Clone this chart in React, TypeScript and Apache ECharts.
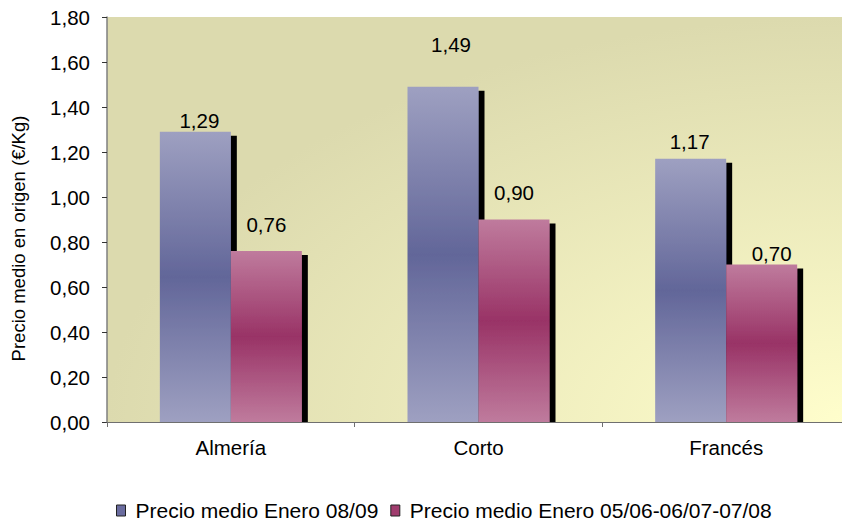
import React, { useEffect, useRef } from "react";
import * as echarts from "echarts";

const categories = ["Almería", "Corto", "Francés"];
const seriesNames = ["Precio medio Enero 08/09", "Precio medio Enero 05/06-06/07-07/08"];
const precioEnero0809 = [1.29, 1.49, 1.17];
const precioEneroMedia = [0.76, 0.9, 0.7];
const yMin = 0;
const yMax = 1.8;
const yInterval = 0.2;

// label nudges in px, mimicking where the original placed its value labels
const labelShift0809 = [[4, 4], [8, -27], [-1, -2]];
const labelShiftMedia = [[0, -11], [0, -12], [10, 4]];

const FONT = "'Liberation Sans', Arial, sans-serif";
const fmt = (v: number) => v.toFixed(2).replace(".", ",");

const vGrad = (edge: string, mid: string) => ({
  type: "linear",
  x: 0,
  y: 0,
  x2: 0,
  y2: 1,
  colorStops: [
    { offset: 0, color: edge },
    { offset: 0.5, color: mid },
    { offset: 1, color: edge },
  ],
});

export default function App() {
  const ref = useRef<HTMLDivElement>(null);
  useEffect(() => {
    document.body.style.margin = "0";
    if (!ref.current) return;
    const chart = echarts.init(ref.current, undefined, { renderer: "svg" });
    const barStyle = (edge: string, mid: string) => ({
      color: vGrad(edge, mid),
      shadowColor: "#000",
      shadowBlur: 0,
      shadowOffsetX: 6,
      shadowOffsetY: 4,
    });
    const makeData = (vals: number[], shifts: number[][]) =>
      vals.map((v, i) => ({ value: v, label: { offset: shifts[i] } }));
    const labelCfg = {
      show: true,
      position: "top",
      fontSize: 20.5,
      color: "#000",
      fontFamily: FONT,
      formatter: (p: any) => fmt(p.value),
    };
    chart.setOption({
      animation: false,
      textStyle: { fontFamily: FONT },
      grid: {
        left: 107,
        width: 743,
        top: 17,
        bottom: 101,
        outerBoundsMode: "none",
        containLabel: false,
        show: true,
        borderWidth: 0,
        backgroundColor: {
          type: "radial",
          x: 1,
          y: 1,
          r: 1,
          colorStops: [
            { offset: 0, color: "#fffecc" },
            { offset: 1, color: "#dcdaae" },
          ],
        },
      },
      graphic: [
        {
          type: "rect",
          z: 3,
          silent: true,
          shape: { x: 104, y: 423, width: 740, height: 6 },
          style: { fill: "#fff" },
        },
      ],
      legend: {
        left: 116,
        top: 500,
        padding: 0,
        itemWidth: 9,
        itemHeight: 11,
        itemGap: 12,
        icon: "rect",
        textStyle: { fontSize: 21, lineHeight: 20, color: "#000", fontFamily: FONT, padding: [0, 0, 0, 5] },
        data: [
          { name: seriesNames[0], itemStyle: { color: "#6a6c9f", borderColor: "#222", borderWidth: 1 } },
          { name: seriesNames[1], itemStyle: { color: "#a03c6e", borderColor: "#222", borderWidth: 1 } },
        ],
      },
      xAxis: {
        type: "category",
        data: categories,
        z: 4,
        axisLine: { lineStyle: { color: "#6f6f6f", width: 1 } },
        axisTick: { show: true, length: 5, lineStyle: { color: "#6f6f6f" } },
        axisLabel: { fontSize: 20.5, color: "#000", margin: 15, fontFamily: FONT },
      },
      yAxis: {
        type: "value",
        min: yMin,
        max: yMax,
        interval: yInterval,
        name: "Precio medio en origen (€/Kg)",
        nameLocation: "middle",
        nameGap: 79,
        nameTextStyle: { fontSize: 18.5, color: "#000", fontFamily: FONT, padding: [0, 38, 0, 0] },
        axisLine: { show: true, lineStyle: { color: "#7f7f7f", width: 1.5 } },
        axisTick: { show: true, length: 5, lineStyle: { color: "#333" } },
        axisLabel: { fontSize: 20.5, color: "#000", margin: 17, fontFamily: FONT, formatter: fmt },
        splitLine: {
          show: true,
          lineStyle: {
            color: "#333",
            width: 1,
            type: [8, 7],
            shadowColor: "rgba(0,0,0,0.25)",
            shadowOffsetY: 1,
          },
        },
      },
      series: [
        {
          name: seriesNames[0],
          type: "bar",
          z: 2,
          barWidth: 71,
          barGap: "0%",
          data: makeData(precioEnero0809, labelShift0809),
          itemStyle: barStyle("#9ea0c1", "#626699"),
          label: labelCfg,
        },
        {
          name: seriesNames[1],
          type: "bar",
          z: 2,
          barWidth: 71,
          barGap: "0%",
          data: makeData(precioEneroMedia, labelShiftMedia),
          itemStyle: barStyle("#bf7b9d", "#993366"),
          label: labelCfg,
        },
      ],
    });
    return () => chart.dispose();
  }, []);
  return <div ref={ref} style={{ width: 842, height: 523 }} />;
}
